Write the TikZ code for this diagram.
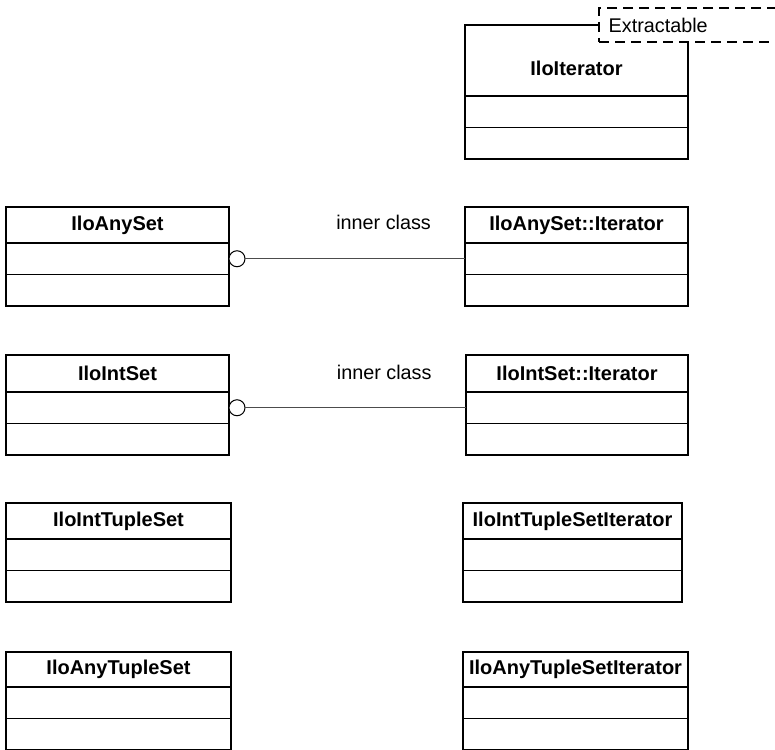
\documentclass[tikz,border=0pt]{standalone}
\usepackage{fontspec}
\setmainfont{Liberation Sans}

% one UML class: title compartment plus two empty compartments
% #1 name, #2 x, #3 y (top), #4 width, #5 title height, #6 title
\newcommand\umlclass[6]{%
  \node[classpart, title, minimum width=#4, minimum height=#5] (#1) at (#2,#3) {#6};
  \node[classpart, minimum width=#4, minimum height=31.5pt] (#1-a) at (#1.south west) {};
  \node[classpart, minimum width=#4, minimum height=31.5pt] (#1-o) at (#1-a.south west) {};
}

\begin{document}
\begin{tikzpicture}[x=1pt, y=-1pt,
  classpart/.style={draw, line width=1.4pt, fill=white, inner sep=0pt,
    outer sep=0pt, anchor=north west},
  title/.style={font=\fontsize{20}{22}\selectfont\bfseries},
  plain/.style={font=\fontsize{19.8}{22}\selectfont, inner sep=0pt},
  extbox/.style={draw, line width=1.3pt, dash pattern=on 10pt off 6pt,
    fill=white, inner sep=0pt, outer sep=0pt, anchor=north west,
    minimum width=200pt, minimum height=34pt},
  joint/.style={circle, draw, line width=1pt, fill=white, inner sep=0pt,
    outer sep=0pt, minimum size=16pt, anchor=west},
  assoc/.style={draw=black!70, line width=1.1pt}]

\useasboundingbox (0,0) rectangle (775,749);

% iterator interface with its stereotype tag; the title sits below the tag
\umlclass{iter}{465}{25}{223pt}{71pt}{}
\node[title, inner sep=0pt] (iter-name) at ([yshift=-8pt]iter.center) {IloIterator};
\node[extbox] (ext) at (599,8) {};
\node[plain, anchor=west] (extlabel) at ([xshift=9.5pt]ext.west) {Extractable};

% set classes (left) and their iterators (right)
\umlclass{anyset}{6}{207}{223pt}{36pt}{IloAnySet}
\umlclass{anyit}{465}{207}{223pt}{36pt}{IloAnySet::Iterator}

\umlclass{intset}{6}{355}{223pt}{37pt}{IloIntSet}
\umlclass{intit}{466}{355}{222pt}{37pt}{IloIntSet::Iterator}

\umlclass{inttup}{6}{503}{225pt}{36pt}{IloIntTupleSet}
\umlclass{inttupit}{463}{503}{219pt}{36pt}{IloIntTupleSetIterator}

\umlclass{anytup}{6}{652}{225pt}{35pt}{IloAnyTupleSet}
\umlclass{anytupit}{463}{652}{225pt}{35pt}{IloAnyTupleSetIterator}

% inner-class nesting connectors
\node[joint] (j1) at (anyset-a.east) {};
\draw[assoc] (j1.east) -- node[plain, pos=0.63, yshift=36pt, text=black] (lbl1) {inner class} (anyit-a.west);

\node[joint] (j2) at (intset-a.east) {};
\draw[assoc] (j2.east) -- node[plain, pos=0.63, yshift=35pt, text=black] (lbl2) {inner class} (intit-a.west);

\end{tikzpicture}
\end{document}
